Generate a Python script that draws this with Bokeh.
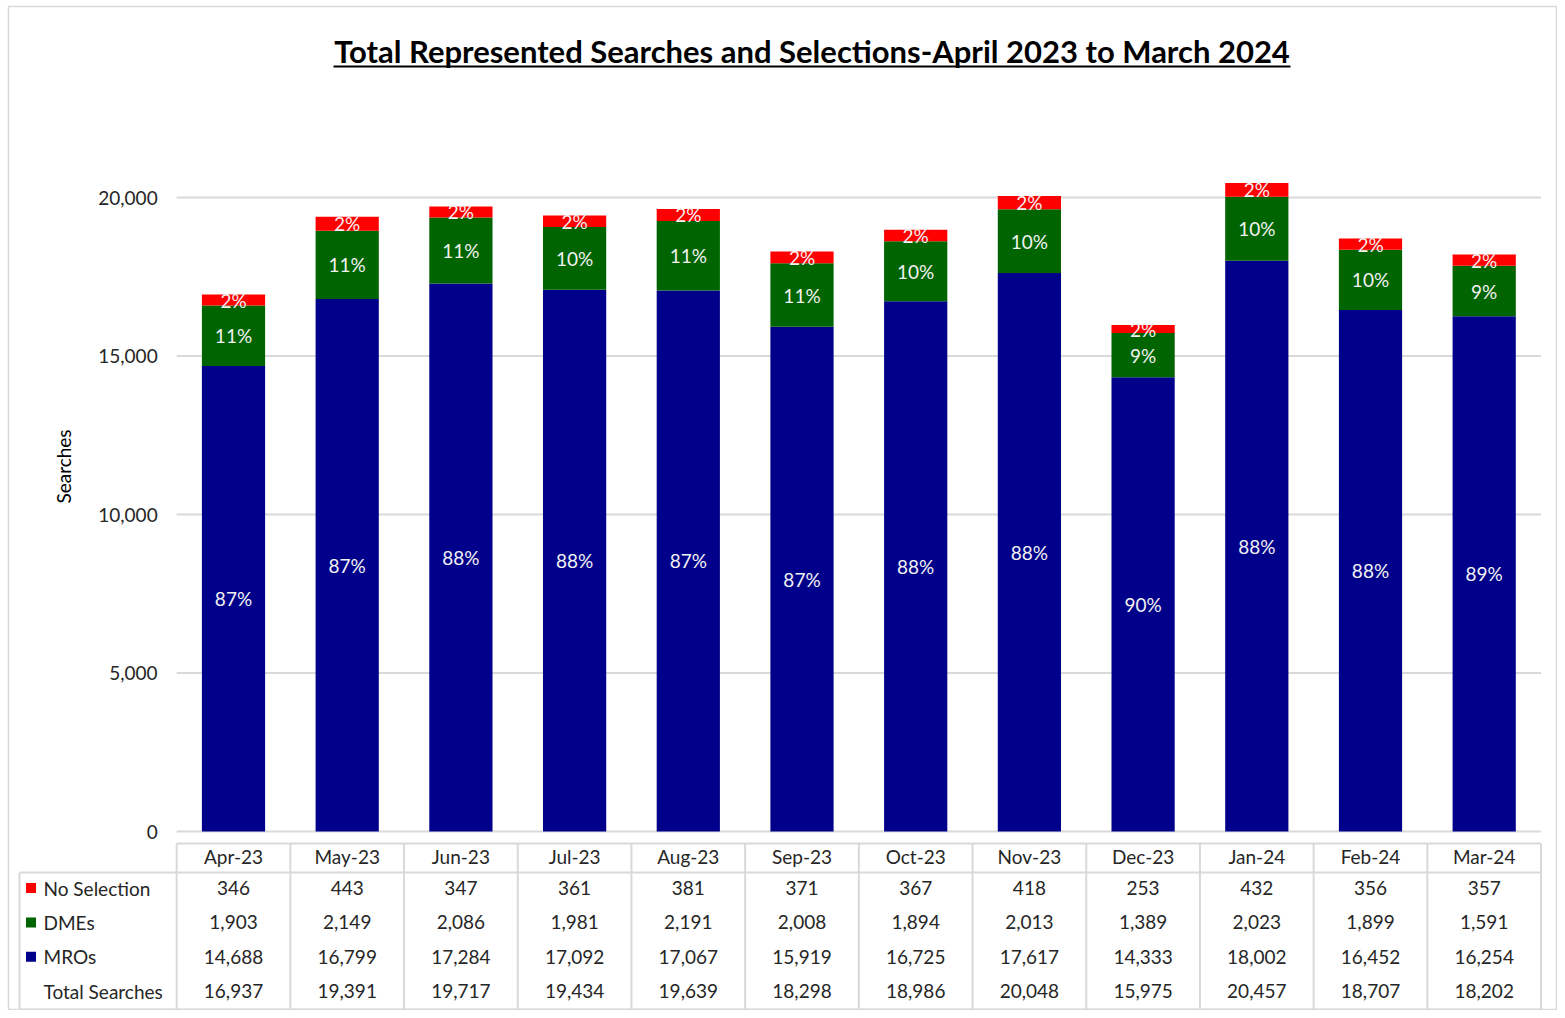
from math import pi
from bokeh.plotting import figure
from bokeh.models import Range1d, FixedTicker, NumeralTickFormatter, ColumnDataSource
from bokeh.core.properties import value
from bokeh.embed import file_html
from bokeh.resources import INLINE

# ---------------- data ----------------
months = ["Apr-23", "May-23", "Jun-23", "Jul-23", "Aug-23", "Sep-23",
          "Oct-23", "Nov-23", "Dec-23", "Jan-24", "Feb-24", "Mar-24"]
no_selection = [346, 443, 347, 361, 381, 371, 367, 418, 253, 432, 356, 357]
dmes = [1903, 2149, 2086, 1981, 2191, 2008, 1894, 2013, 1389, 2023, 1899, 1591]
mros = [14688, 16799, 17284, 17092, 17067, 15919, 16725, 17617, 14333, 18002, 16452, 16254]
total_searches = [16937, 19391, 19717, 19434, 19639, 18298, 18986, 20048, 15975, 20457, 18707, 18202]
y_ticks = [0, 5000, 10000, 15000, 20000]
title_text = "Total Represented Searches and Selections-April 2023 to March 2024"
y_label = "Searches"
row_names = ["No Selection", "DMEs", "MROs", "Total Searches"]

# ---------------- styles ----------------
RED, GREEN, NAVY = "#FF0000", "#006400", "#00008B"
GRID = "#D9D9D9"
TXT = "#262626"
FONT = "Lato"

# ---------------- layout (canvas pixels -> data) ----------------
W, H = 1557, 1010
FRAME_L, FRAME_T = 8, 6
PX_PER_CAT = 113.7
CAT0_PX = 233.0
ZERO_PX = 831.0
PX_PER_UNIT = 634.0 / 20000.0


def dx(px):
    return (px - CAT0_PX) / PX_PER_CAT


def dy(px):
    return (ZERO_PX - px) / PX_PER_UNIT


n = len(months)
xs = list(range(n))

p = figure(width=W, height=H,
           x_range=Range1d(dx(FRAME_L), dx(W)),
           y_range=Range1d(dy(H), dy(FRAME_T)),
           min_border=0, min_border_left=FRAME_L, min_border_top=FRAME_T,
           toolbar_location=None, output_backend="svg")
p.title.visible = False
p.xgrid.visible = False
p.ygrid.visible = False
p.outline_line_color = GRID
p.outline_line_width = 1.5
p.background_fill_color = "white"
p.border_fill_color = "white"

# gridlines (from the tick values)
p.segment(x0=[-0.5] * len(y_ticks), x1=[n - 0.5] * len(y_ticks),
          y0=y_ticks, y1=y_ticks, line_color=GRID, line_width=2)

# stacked bars
src = ColumnDataSource(dict(
    x=xs, mros=mros, dmes=dmes, nosel=no_selection,
    mro_mid=[m / 2 for m in mros],
    dme_mid=[m + d / 2 for m, d in zip(mros, dmes)],
    ns_mid=[m + d + s / 2 for m, d, s in zip(mros, dmes, no_selection)],
    mro_pct=["%d%%" % round(100 * m / t) for m, t in zip(mros, total_searches)],
    dme_pct=["%d%%" % round(100 * d / t) for d, t in zip(dmes, total_searches)],
    ns_pct=["%d%%" % round(100 * s / t) for s, t in zip(no_selection, total_searches)],
))
p.vbar_stack(["mros", "dmes", "nosel"], x="x", width=0.556, source=src,
             color=[NAVY, GREEN, RED], line_color=None)

for ycol, tcol in [("mro_mid", "mro_pct"), ("dme_mid", "dme_pct"), ("ns_mid", "ns_pct")]:
    p.text(x="x", y=ycol, text=tcol, source=src, text_align="center",
           text_baseline="middle", text_color="#F2F2F2",
           text_font=value(FONT), text_font_size="19px")

# y axis (placed at the left edge of the first category)
ya = p.yaxis[0]
ya.fixed_location = -0.5
ya.ticker = FixedTicker(ticks=y_ticks)
ya.formatter = NumeralTickFormatter(format="0,0")
ya.axis_line_color = None
ya.major_tick_line_color = None
ya.minor_tick_line_color = None
ya.major_tick_out = 0
ya.major_tick_in = 0
ya.major_label_standoff = 19
ya.major_label_text_font = FONT
ya.major_label_text_font_size = "19px"
ya.major_label_text_color = TXT

# x axis = table header row
HEAD_TOP, HEAD_BOT = 843, 872
xa = p.xaxis[0]
xa.fixed_location = dy(HEAD_TOP)
xa.ticker = FixedTicker(ticks=xs)
xa.major_label_overrides = {i: m for i, m in enumerate(months)}
xa.axis_line_color = None
xa.major_tick_line_color = None
xa.minor_tick_line_color = None
xa.major_tick_out = 0
xa.major_tick_in = 0
xa.major_label_standoff = 1
xa.major_label_text_font = FONT
xa.major_label_text_font_size = "19px"
xa.major_label_text_color = TXT

# data table lines
TABLE_LEFT, TABLE_BOT = 19, 1009
hx0 = [-0.5, dx(TABLE_LEFT), dx(TABLE_LEFT)]
hx1 = [n - 0.5] * 3
hy = [dy(HEAD_TOP), dy(HEAD_BOT), dy(TABLE_BOT)]
p.segment(x0=hx0, x1=hx1, y0=hy, y1=hy, line_color=GRID, line_width=2)
vx = [i - 0.5 for i in range(n + 1)]
p.segment(x0=vx, x1=vx, y0=[dy(HEAD_TOP)] * len(vx), y1=[dy(TABLE_BOT)] * len(vx),
          line_color=GRID, line_width=2)
p.segment(x0=[dx(TABLE_LEFT)], x1=[dx(TABLE_LEFT)], y0=[dy(HEAD_BOT)], y1=[dy(TABLE_BOT)],
          line_color=GRID, line_width=2)

# data table rows
row_vals = [no_selection, dmes, mros, total_searches]
row_cols = [RED, GREEN, NAVY, None]
ROW0_PX, ROW_STEP = 887.5, 34.4
for r, (name, vals, col) in enumerate(zip(row_names, row_vals, row_cols)):
    yr = dy(ROW0_PX + r * ROW_STEP)
    p.text(x=xs, y=[yr] * n, text=["{:,}".format(v) for v in vals],
           text_align="center", text_baseline="middle", text_color=TXT,
           text_font=value(FONT), text_font_size="19px")
    p.text(x=[dx(43)], y=[yr], text=[name], text_align="left", text_baseline="middle",
           text_color=TXT, text_font=value(FONT), text_font_size="19px")
    if col is not None:
        p.scatter(x=[dx(30.5)], y=[yr], marker="square", size=10,
                  fill_color=col, line_color=None)

# title with underline
p.text(x=[dx(811.5)], y=[dy(50)], text=[title_text], text_align="center",
       text_baseline="middle", text_color="black", text_font=value(FONT),
       text_font_style="bold", text_font_size="31px")
p.segment(x0=[dx(333)], x1=[dx(1290)], y0=[dy(66)], y1=[dy(66)],
          line_color="black", line_width=2)

# y axis label
p.text(x=[dx(63)], y=[dy(466)], text=[y_label], angle=pi / 2, text_align="center",
       text_baseline="middle", text_color="black", text_font=value(FONT),
       text_font_size="19px")

open("out.html", "w").write(file_html(p, INLINE))
